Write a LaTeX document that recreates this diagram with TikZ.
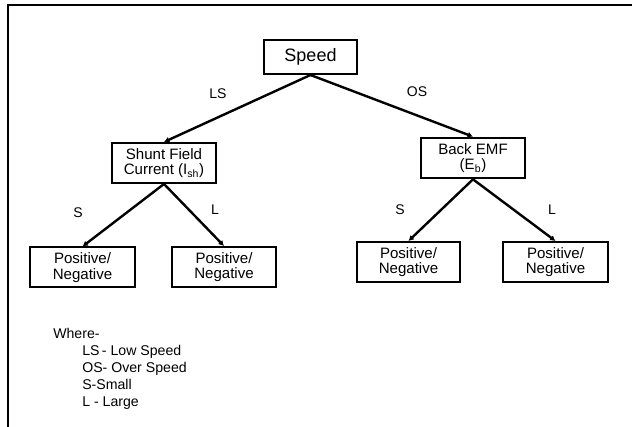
\documentclass[tikz,border=0pt]{standalone}
\usepackage{fontspec}
\setmainfont{Liberation Sans}
\usetikzlibrary{positioning,arrows.meta}
\tikzset{
  box/.style={draw, line width=1.5pt, align=center, inner sep=1pt, font=\fontsize{11.3}{11.5}\selectfont},
  branch/.style={line width=1.8pt, -{Latex[length=4pt,width=4.5pt]}},
  lbl/.style={font=\fontsize{10.5}{12}\selectfont},
  legend/.style={anchor=base west, inner sep=0pt, font=\fontsize{10.6}{12}\selectfont}
}

\begin{document}
\begin{tikzpicture}[x=0.75pt,y=-0.75pt]
        \useasboundingbox (0,0) rectangle (632,427);
        \draw[line width=1.5pt] (8,427) -- (8,5) -- (632,5);
        % tree
        \node[box, minimum width=69.75pt, minimum height=25.5pt, font=\fontsize{13.5}{15}\selectfont] (speed) at (310.5,57) {Speed};
        \node[box, minimum width=78pt, minimum height=30pt] (shunt) at (164,163) {Shunt Field\\Current (I\textsubscript{sh})};
        \node[box, minimum width=78pt, minimum height=30.5pt] (emf) at (473,158) {Back EMF\\(E\textsubscript{b})};
        \node[box, minimum width=78.75pt, minimum height=30pt] (ll) at (82.5,267.5) {Positive/\\Negative};
        \node[box, minimum width=78pt, minimum height=30pt] (lr) at (224,267) {Positive/\\Negative};
        \node[box, minimum width=77.25pt, minimum height=30pt] (rl) at (408.5,262) {Positive/\\Negative};
        \node[box, minimum width=78.75pt, minimum height=30pt] (rr) at (555.5,262) {Positive/\\Negative};
        \draw[branch] (speed.south) -- (shunt.north);
        \draw[branch] (speed.south) -- (emf.north);
        \draw[branch] (shunt.south) -- (ll.north);
        \draw[branch] (shunt.south) -- (lr.north);
        \draw[branch] (emf.south) -- (rl.north);
        \draw[branch] (emf.south) -- (rr.north);
        \node[lbl] (lsLbl) at (218,94) {LS};
        \node[lbl] (osLbl) at (417,92) {OS};
        \node[lbl] (sLeft) at (78,213) {S};
        \node[lbl] (lLeft) at (215,210) {L};
        \node[lbl] (sRight) at (400,210) {S};
        \node[lbl] (lRight) at (552,210) {L};
        % legend
        \node[legend] (where) at (53,339) {Where-};
        \node[legend] (legLS) at (82,356) {LS\,- Low Speed};
        \node[legend] (legOS) at (82,373) {OS- Over Speed};
        \node[legend] (legS) at (82,390) {S-Small};
        \node[legend] (legL) at (82,407) {L - Large};
      \end{tikzpicture}
\end{document}
